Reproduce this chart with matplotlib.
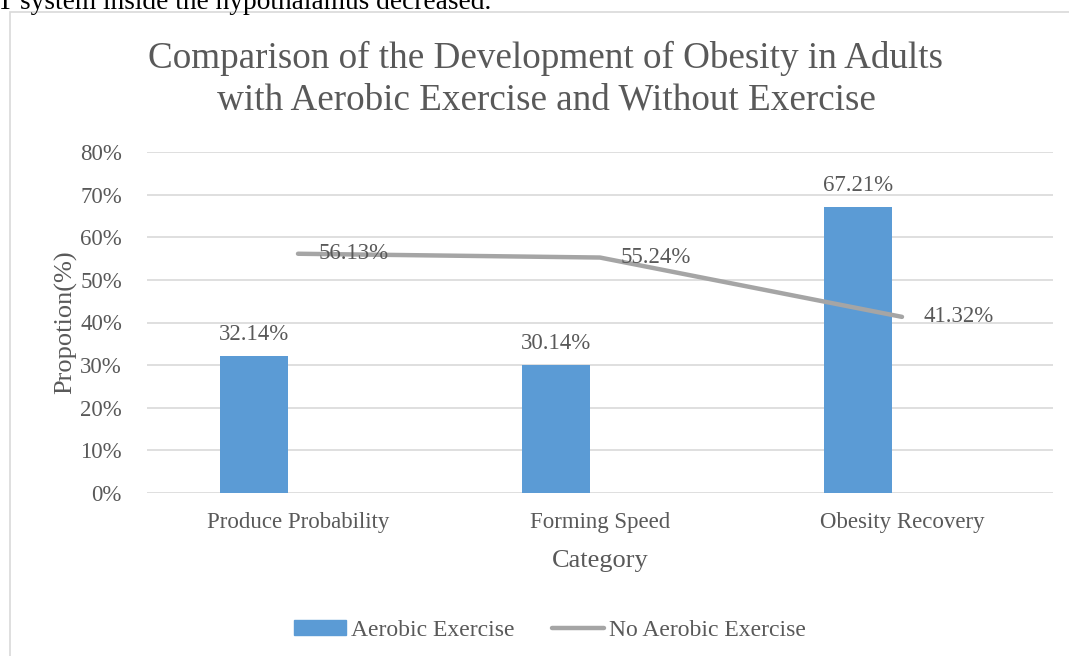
import matplotlib
matplotlib.use('Agg')
import matplotlib.pyplot as plt
from matplotlib.patches import Rectangle
from matplotlib.lines import Line2D
from matplotlib.ticker import PercentFormatter

plt.rcParams['font.family'] = ['Liberation Serif', 'DejaVu Serif']

categories = ['Produce Probability', 'Forming Speed', 'Obesity Recovery']
aerobic = [32.14, 30.14, 67.21]
no_aerobic = [56.13, 55.24, 41.32]
yticks = [0, 10, 20, 30, 40, 50, 60, 70, 80]

text_gray = '#595959'
bar_blue = '#5B9BD5'
line_gray = '#A5A5A5'
grid_gray = '#D9D9D9'

W, H = 1069, 656
fig = plt.figure(figsize=(W / 100, H / 100), dpi=100)

# text from the page above the chart, cut off at the top
fig.text(-3 / W, 1 - 9 / H, 'T system inside the hypothalamus decreased.',
         fontsize=19.7, color='black', va='baseline', ha='left')

# chart frame (only left and top edges visible)
fig.patches.append(Rectangle((10 / W, -0.1), 1.2, 1.1 - 12 / H, transform=fig.transFigure,
                             fill=False, edgecolor=grid_gray, linewidth=1.2))

ax = fig.add_axes([147 / W, 1 - 493 / H, (1053 - 147) / W, (493 - 152) / H])
x = list(range(len(categories)))

bar_x = [i - 0.145 for i in x]
ax.bar(bar_x, aerobic, width=0.225, color=bar_blue, zorder=2, label='Aerobic Exercise')
ax.plot(x, no_aerobic, color=line_gray, linewidth=3.2, solid_capstyle='round', zorder=3,
        label='No Aerobic Exercise')

for bx, v in zip(bar_x, aerobic):
    ax.annotate(f'{v:.2f}%', (bx, v), xytext=(0, 11), textcoords='offset pixels',
                ha='center', va='bottom', fontsize=16.5, color=text_gray)
for lx, v in zip(x, no_aerobic):
    ax.annotate(f'{v:.2f}%', (lx, v), xytext=(21, 0), textcoords='offset pixels',
                ha='left', va='center', fontsize=16.5, color=text_gray, zorder=4)

ax.set_xlim(-0.5, 2.5)
ax.set_ylim(0, 80)
ax.set_yticks(yticks)
ax.yaxis.set_major_formatter(PercentFormatter(decimals=0))
ax.set_xticks(x)
ax.set_xticklabels(categories)
ax.tick_params(axis='both', length=0, labelsize=16.5, labelcolor=text_gray)
ax.tick_params(axis='y', pad=18)
ax.tick_params(axis='x', pad=14)
ax.grid(axis='y', color=grid_gray, linewidth=1.2, zorder=0)
for s in ax.spines.values():
    s.set_visible(False)

ax.set_xlabel('Category', fontsize=19, color=text_gray, labelpad=12)
ax.set_ylabel('Propotion(%)', fontsize=19, color=text_gray, labelpad=2)

fig.text(546 / W, 1 - 58 / H, 'Comparison of the Development of Obesity in Adults',
         ha='center', va='center', fontsize=26.7, color=text_gray)
fig.text(546 / W, 1 - 100 / H, 'with Aerobic Exercise and Without Exercise',
         ha='center', va='center', fontsize=26.7, color=text_gray)

handles = [Rectangle((0, 0), 1, 1, color=bar_blue),
           Line2D([0], [0], color=line_gray, linewidth=3.2, solid_capstyle='round')]
fig.legend(handles, ['Aerobic Exercise', 'No Aerobic Exercise'], loc='center',
           bbox_to_anchor=(550 / W, 1 - 630 / H), ncol=2, frameon=False, fontsize=17,
           labelcolor=text_gray, handlelength=2.2, handleheight=0.6, handletextpad=0.2,
           columnspacing=1.6)

fig.savefig('out.png', dpi=100)
